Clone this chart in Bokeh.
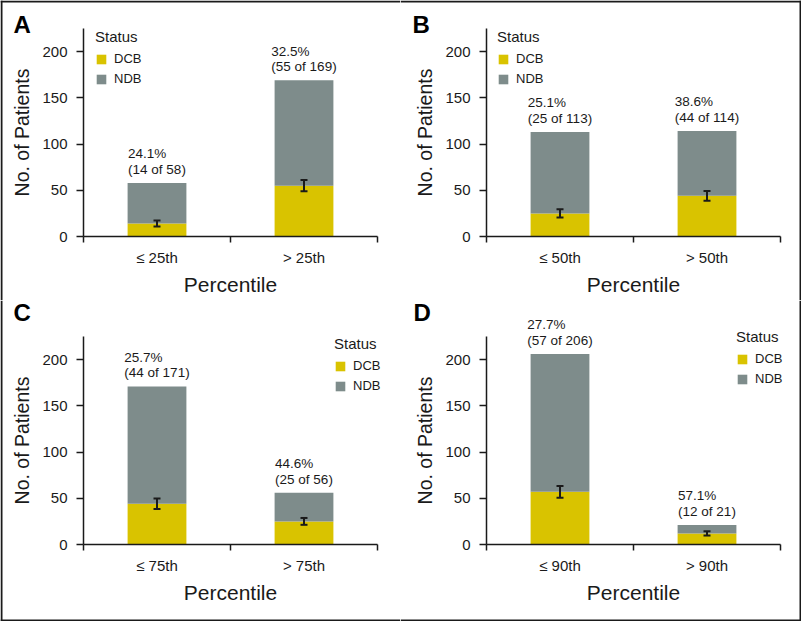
from bokeh.plotting import figure
from bokeh.models import (Range1d, FixedTicker, LabelSet, Label, Whisker, TeeHead,
                          ColumnDataSource, Legend, BoxAnnotation)
from bokeh.core.properties import value
from bokeh.layouts import column, row
from bokeh.embed import file_html
from bokeh.resources import INLINE

# ---------------- data ----------------
cats_A = ["≤ 25th", "> 25th"]
dcb_A = [14, 55]
total_A = [58, 169]
pct_A = ["24.1%", "32.5%"]
err_lo_A = [10.7, 48.9]
err_hi_A = [17.3, 61.1]

cats_B = ["≤ 50th", "> 50th"]
dcb_B = [25, 44]
total_B = [113, 114]
pct_B = ["25.1%", "38.6%"]
err_lo_B = [20.6, 38.8]
err_hi_B = [29.4, 49.2]

cats_C = ["≤ 75th", "> 75th"]
dcb_C = [44, 25]
total_C = [171, 56]
pct_C = ["25.7%", "44.6%"]
err_lo_C = [38.3, 21.3]
err_hi_C = [49.7, 28.7]

cats_D = ["≤ 90th", "> 90th"]
dcb_D = [57, 12]
total_D = [206, 21]
pct_D = ["27.7%", "57.1%"]
err_lo_D = [50.6, 9.7]
err_hi_D = [63.4, 14.3]

y_ticks = [0, 50, 100, 150, 200]
y_max = 225
series = ["DCB", "NDB"]

# ---------------- style ----------------
FONT = "Liberation Sans"
YEL = "#D9C300"
GRAY = "#7E8C8B"
INK = "#1a1a1a"


def make_panel(letter, cats, dcb, total, pct, lo, hi, W, H, axis_px,
               legend_xy, letter_xy, edges):
    # axis_px: (x of y-axis, x of right end of x-axis, y of zero line, y of axis top)
    x0, x1, yz, yt = axis_px
    n = len(cats)
    pxu = (x1 - x0) / n
    pyu = (yz - yt) / y_max
    xr = Range1d(-x0 / pxu, (W - x0) / pxu)
    yr = Range1d(-(H - yz) / pyu, yz / pyu)

    xs = [i + 0.5 for i in range(n)]
    ndb = [t - d for t, d in zip(total, dcb)]
    texts = [f"{p}\n({d} of {t})" for p, d, t in zip(pct, dcb, total)]
    src = ColumnDataSource(dict(x=xs, DCB=dcb, NDB=ndb, total=total,
                                lo=lo, hi=hi, text=texts))
    p = figure(width=W, height=H, x_range=xr, y_range=yr, title=None,
               output_backend="svg", toolbar_location=None,
               min_border=0, min_border_left=0, min_border_right=0,
               min_border_top=0, min_border_bottom=0,
               outline_line_color=None, background_fill_color="white",
               border_fill_color="white")
    p.xgrid.visible = False
    p.ygrid.visible = False

    rs = p.vbar_stack(series, x="x", width=0.4, source=src,
                      color=[YEL, GRAY], line_color=None)

    whisk = Whisker(source=src, base="x", lower="lo", upper="hi",
                    line_color=INK, line_width=2, level="overlay",
                    upper_head=TeeHead(size=7, line_width=2, line_color=INK),
                    lower_head=TeeHead(size=7, line_width=2, line_color=INK))
    p.add_layout(whisk)

    labels = LabelSet(x="x", y="total", text="text", source=src,
                      text_align="center", text_baseline="bottom", y_offset=6,
                      text_font=value(FONT), text_font_size="13.5px",
                      text_line_height=1.05, text_color=INK)
    p.add_layout(labels)

    # axes (placed inside the frame at the data origin)
    ya = p.yaxis[0]
    ya.fixed_location = 0
    ya.bounds = (0, y_max)
    ya.ticker = FixedTicker(ticks=y_ticks)
    ya.axis_label = "No. of Patients"
    ya.axis_label_text_font = FONT
    ya.axis_label_text_font_size = "19.5px"
    ya.axis_label_text_font_style = "normal"
    ya.axis_label_text_color = INK
    ya.axis_label_standoff = 6
    ya.major_label_text_font = FONT
    ya.major_label_text_font_size = "15px"
    ya.major_label_text_color = INK
    ya.major_label_standoff = 9
    ya.major_tick_in = 0
    ya.major_tick_out = 7
    ya.minor_tick_in = 0
    ya.minor_tick_out = 0
    ya.axis_line_width = 1.5
    ya.axis_line_color = INK
    ya.major_tick_line_width = 1.5
    ya.major_tick_line_color = INK

    xa = p.xaxis[0]
    xa.fixed_location = 0
    xa.bounds = (0, n)
    xa.ticker = FixedTicker(ticks=xs, minor_ticks=list(range(n + 1)))
    xa.major_label_overrides = {x: c for x, c in zip(xs, cats)}
    xa.axis_label = "Percentile"
    xa.axis_label_text_font = FONT
    xa.axis_label_text_font_size = "21px"
    xa.axis_label_text_font_style = "normal"
    xa.axis_label_text_color = INK
    xa.axis_label_standoff = 4
    xa.major_label_text_font = FONT
    xa.major_label_text_font_size = "15px"
    xa.major_label_text_color = INK
    xa.major_label_standoff = 6
    xa.major_tick_in = 0
    xa.major_tick_out = 0
    xa.major_tick_line_color = None
    xa.minor_tick_in = 0
    xa.minor_tick_out = 6
    xa.minor_tick_line_width = 1.5
    xa.minor_tick_line_color = INK
    xa.axis_line_width = 1.5
    xa.axis_line_color = INK

    legend = Legend(items=[(s, [r]) for s, r in zip(series, rs)],
                    title="Status", location=legend_xy,
                    border_line_color=None, background_fill_alpha=0,
                    padding=0, margin=0, spacing=5,
                    glyph_width=12, glyph_height=12, label_height=12,
                    label_standoff=7, title_standoff=6,
                    label_text_font=FONT, label_text_font_size="13px",
                    label_text_color=INK,
                    title_text_font=FONT, title_text_font_size="15px",
                    title_text_font_style="normal", title_text_color=INK)
    p.add_layout(legend)

    p.add_layout(Label(x=letter_xy[0], y=letter_xy[1], x_units="screen",
                       y_units="screen", text=letter, text_font=FONT,
                       text_font_size="24px", text_font_style="bold",
                       text_color="black", text_baseline="alphabetic"))

    # outer frame pieces (screen units: x from left, y up from bottom)
    bw = 2
    boxes = {
        "left": dict(left=0, right=bw, bottom=0, top=H),
        "right": dict(left=W - bw, right=W, bottom=0, top=H),
        "top": dict(left=0, right=W, bottom=H - bw, top=H),
        "bottom": dict(left=0, right=W, bottom=0, top=bw),
    }
    for e in edges:
        p.add_layout(BoxAnnotation(**boxes[e], left_units="screen",
                                   right_units="screen", top_units="screen",
                                   bottom_units="screen", fill_color=INK,
                                   fill_alpha=1, line_alpha=0, level="overlay"))
    return p


pA = make_panel("A", cats_A, dcb_A, total_A, pct_A, err_lo_A, err_hi_A,
                400, 300, (83, 377, 236, 28), (95, 214), (13, 276),
                ["left", "top"])
pB = make_panel("B", cats_B, dcb_B, total_B, pct_B, err_lo_B, err_hi_B,
                401, 300, (86, 380, 236, 28), (97, 214), (12, 276),
                ["right", "top"])
pC = make_panel("C", cats_C, dcb_C, total_C, pct_C, err_lo_C, err_hi_C,
                400, 321, (83, 377, 244, 36), (334, 228), (13, 309),
                ["left", "bottom"])
pD = make_panel("D", cats_D, dcb_D, total_D, pct_D, err_lo_D, err_hi_D,
                401, 321, (86, 380, 244, 36), (336, 235), (13, 309),
                ["right", "bottom"])

layout = column(row(pA, pB), row(pC, pD))
open("out.html", "w").write(file_html(layout, INLINE))
